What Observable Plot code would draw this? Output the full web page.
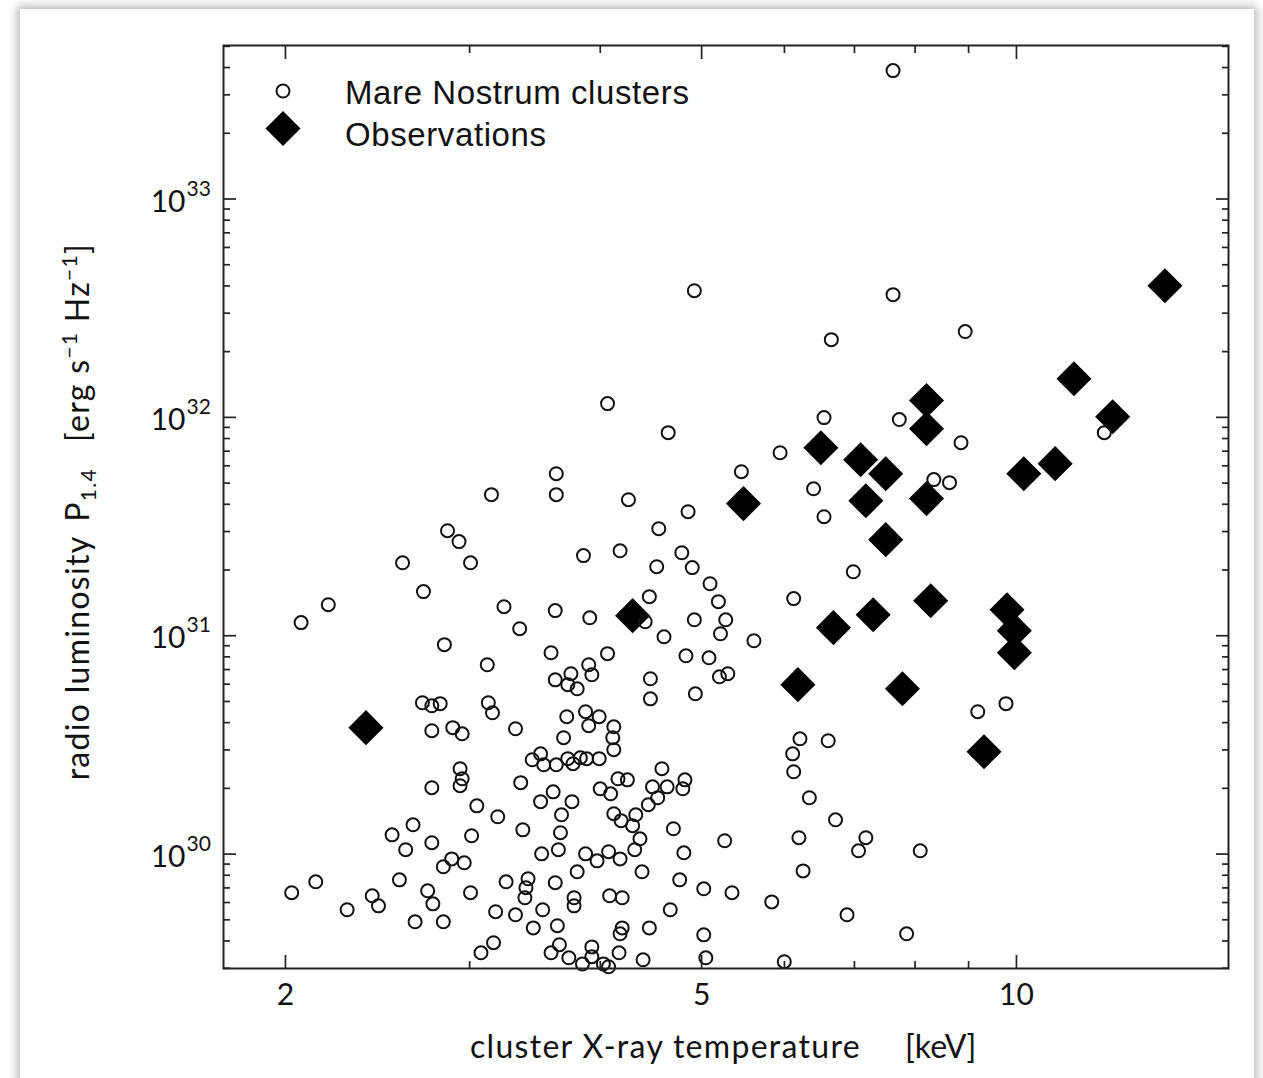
<!DOCTYPE html>
<html><head><meta charset="utf-8">
<script src="https://cdn.jsdelivr.net/npm/d3@7"></script>
<script src="https://cdn.jsdelivr.net/npm/@observablehq/plot@0.6"></script>
<style>
body{margin:0;background:#fff;width:1263px;height:1078px;overflow:hidden;position:relative}
#card{position:absolute;left:20px;top:9px;width:1234px;height:1120px;background:#fff;box-shadow:0 0 9px 3px rgba(0,0,0,0.28)}
#chart{position:absolute;left:0;top:0}
#overlay{position:absolute;left:0;top:0;pointer-events:none}
</style></head><body>
<div id="card"></div>
<div id="chart"></div>
<svg id="overlay" width="1263" height="1078"></svg>
<script>
// Mare Nostrum simulated clusters: log10 T [keV], log10 P1.4 [erg/s/Hz]
const simLogT = [
.882,.692,.882,.951,.823,.609,.667,.774,.560,.737,
.498,.560,.629,.686,.456,.467,.658,.413,.478,.586,
.621,.680,.656,.690,.433,.342,.316,.510,.525,.707,
.649,.715,.559,.592,.645,.692,.722,.717,.663,.749,
.453,.555,.609,.684,.706,.591,.494,.432,.441,.449,
.495,.499,.441,.461,.470,.521,.537,.468,.470,.468,
.441,.526,.484,.504,.528,.423,.403,.441,.416,.479,
.460,.452,.472,.330,.307,.410,.384,.390,.360,.437,
.442,.478,.512,.533,.531,.530,.521,.502,.538,.425,
.452,.500,.488,.574,.559,.571,.580,.594,.650,.650,
.693,.716,.724,.570,.567,.588,.591,.601,.615,.614,
.615,.601,.589,.583,.576,.571,.560,.548,.545,.545,
.557,.565,.564,.575,.562,.546,.602,.612,.619,.628,
.661,.652,.666,.657,.648,.683,.681,.615,.622,.636,
.633,.640,.635,.672,.721,.682,.588,.599,.610,.621,
.580,.642,.678,.701,.728,.766,.559,.577,.577,.611,
.623,.547,.669,.561,.623,.621,.649,.701,.555,.563,
.572,.594,.594,.585,.605,.610,.620,.643,.703,.778,
.816,.888,1.084,.947,.921,.936,.806,.816,.844,.787,
.963,.990,.793,.820,.786,.787,.802,.827,.792,.856,
.849,.908,.796,.838,.895];
const simLogP = [
33.588,32.580,32.562,32.393,32.356,32.063,31.930,31.838,31.742,31.751,
31.646,31.646,31.623,31.568,31.481,31.431,31.490,31.334,31.334,31.367,
31.389,31.380,31.316,31.312,31.202,31.142,31.060,31.133,31.032,31.238,
31.179,31.156,31.115,31.082,31.064,31.073,31.073,31.009,30.995,30.977,
30.959,30.922,30.918,30.908,30.899,30.867,30.867,30.693,30.679,30.689,
30.693,30.647,30.565,30.579,30.551,30.574,30.432,30.391,30.345,30.313,
30.304,30.327,30.221,30.171,30.111,30.134,30.088,30.052,30.020,30.084,
29.978,29.942,29.960,29.873,29.823,29.882,29.809,29.763,29.745,29.832,
29.772,29.823,29.873,29.887,29.846,29.800,29.722,29.736,29.662,29.690,
29.690,29.594,29.548,30.826,30.798,30.776,30.757,30.821,30.803,30.711,
30.734,30.812,30.826,30.629,30.533,30.652,30.588,30.629,30.583,30.533,
30.478,30.437,30.437,30.441,30.414,30.437,30.409,30.409,30.459,30.240,
30.285,30.180,30.098,30.240,30.020,30.001,30.299,30.276,30.345,30.340,
30.391,30.308,30.308,30.258,30.226,30.340,30.299,30.185,30.153,30.180,
30.130,30.070,30.020,30.116,30.061,30.006,30.001,29.969,30.011,29.978,
29.919,29.919,29.882,29.841,29.823,29.781,29.869,29.800,29.763,29.809,
29.800,29.745,29.745,29.672,29.662,29.635,29.662,29.630,29.548,29.585,
29.525,29.575,29.530,29.497,29.497,29.484,29.548,29.516,29.525,29.507,
31.999,31.990,31.930,31.884,31.715,31.701,31.673,31.545,31.293,31.170,
30.652,30.689,30.528,30.519,30.459,30.377,30.258,30.157,30.075,30.075,
30.015,30.015,29.923,29.722,29.635];
// Observed radio halos
const obsLogT = [.378,.633,.739,.791,.813,.825,.851,.856,.863,.875,.875,.891,.914,.914,.914,.918,.969,.991,.998,.998,1.007,1.037,1.055,1.092,1.142];
const obsLogP = [30.579,31.092,31.605,30.776,31.861,31.037,31.806,31.618,31.096,31.742,31.440,30.757,32.077,31.948,31.628,31.160,30.469,31.119,31.023,30.922,31.742,31.788,32.177,32.003,32.603];

const xMajor = [2, 5, 10];
const xMinor = [3, 4, 6, 7, 8, 9];
const yMajorExp = [30, 31, 32, 33];
const xDomain = [1.745, 15.95];
const yDomain = [10 ** 29.476, 10 ** 33.703];

const sims = simLogT.map((t, i) => ({T: 10 ** t, P: 10 ** simLogP[i]}));
const obs = obsLogT.map((t, i) => ({T: 10 ** t, P: 10 ** obsLogP[i]}));
const yMajor = yMajorExp.map(e => 10 ** e);
const yMinor = [];
for (let e = 29; e <= 33; e++) for (let m = 2; m <= 9; m++) {
  const v = m * 10 ** e;
  if (v > yDomain[0] && v < yDomain[1]) yMinor.push(v);
}
const tk = {stroke: "#222", strokeWidth: 1.7};
const none = () => "";

const chart = Plot.plot({
  width: 1263, height: 1078,
  marginLeft: 223, marginRight: 35, marginTop: 45, marginBottom: 110,
  style: {background: "transparent", fontFamily: "Lato", color: "#111", overflow: "visible"},
  x: {type: "log", domain: xDomain, label: null},
  y: {type: "log", domain: yDomain, label: null},
  marks: [
    Plot.dot(obs, {x: "T", y: "P", symbol: "diamond2", r: 15.8, fill: "#000", stroke: "none"}),
    Plot.dot(sims, {x: "T", y: "P", symbol: "circle", r: 6.5, fill: "none", stroke: "#111", strokeWidth: 2}),
    Plot.axisX(xMajor, {anchor: "bottom", tickSize: -13, tickFormat: none, ...tk}),
    Plot.axisX(xMinor, {anchor: "bottom", tickSize: -7, tickFormat: none, ...tk}),
    Plot.axisX(xMajor, {anchor: "top", tickSize: -13, tickFormat: none, ...tk}),
    Plot.axisX(xMinor, {anchor: "top", tickSize: -7, tickFormat: none, ...tk}),
    Plot.axisY(yMajor, {anchor: "left", tickSize: -13, tickFormat: none, ...tk}),
    Plot.axisY(yMinor, {anchor: "left", tickSize: -7, tickFormat: none, ...tk}),
    Plot.axisY(yMajor, {anchor: "right", tickSize: -13, tickFormat: none, ...tk}),
    Plot.axisY(yMinor, {anchor: "right", tickSize: -7, tickFormat: none, ...tk}),
    Plot.axisX(xMajor, {anchor: "bottom", tickSize: 0, tickPadding: 15, fontSize: 30, tickFormat: d => String(d)}),
    Plot.axisY(yMajor, {anchor: "left", tickSize: 0, tickPadding: 38, fontSize: 30, dy: 3, tickFormat: () => "10"}),
    Plot.axisY(yMajor, {anchor: "left", tickSize: 0, tickPadding: 37, textAnchor: "start", fontSize: 21, dy: -10,
      tickFormat: d => String(Math.round(Math.log10(d)))}),
    Plot.frame({stroke: "#222", strokeWidth: 2})
  ]
});
document.getElementById("chart").append(chart);

// Axis titles and legend
const ov = d3.select("#overlay");
const lab = sel => sel.attr("font-family", "Lato").attr("font-size", 32).attr("letter-spacing", 1.3).attr("fill", "#111");
ov.append("text").attr("x", 470).attr("y", 1058).call(lab).text("cluster X-ray temperature");
ov.append("text").attr("x", 905).attr("y", 1058).call(lab).attr("letter-spacing", 0).text("[keV]");
const yl = ov.append("text").attr("transform", "translate(89,243) rotate(-90)")
  .attr("text-anchor", "end").call(lab);
yl.append("tspan").text("radio luminosity");
yl.append("tspan").attr("dx", 14).text("P");
yl.append("tspan").attr("font-size", 21).attr("dy", 7).text("1.4");
yl.append("tspan").attr("dy", -7).attr("dx", 26).text("[erg s");
yl.append("tspan").attr("font-size", 21).attr("dy", -12).text("\u22121");
yl.append("tspan").attr("dy", 12).text(" Hz");
yl.append("tspan").attr("font-size", 21).attr("dy", -12).text("\u22121");
yl.append("tspan").attr("dy", 12).text("]");

ov.append("circle").attr("cx", 283).attr("cy", 91).attr("r", 6.5)
  .attr("fill", "none").attr("stroke", "#111").attr("stroke-width", 2);
ov.append("path").attr("d", d3.symbol(d3.symbolDiamond2, Math.PI * 15.8 * 15.8)())
  .attr("transform", "translate(283,128.5)").attr("fill", "#000");
const leg = sel => sel.attr("font-family", "Liberation Sans").attr("font-size", 33).attr("letter-spacing", 0.6).attr("fill", "#111");
ov.append("text").attr("x", 345).attr("y", 104).call(leg).text("Mare Nostrum clusters");
ov.append("text").attr("x", 345).attr("y", 146).call(leg).text("Observations");
</script>
</body></html>
